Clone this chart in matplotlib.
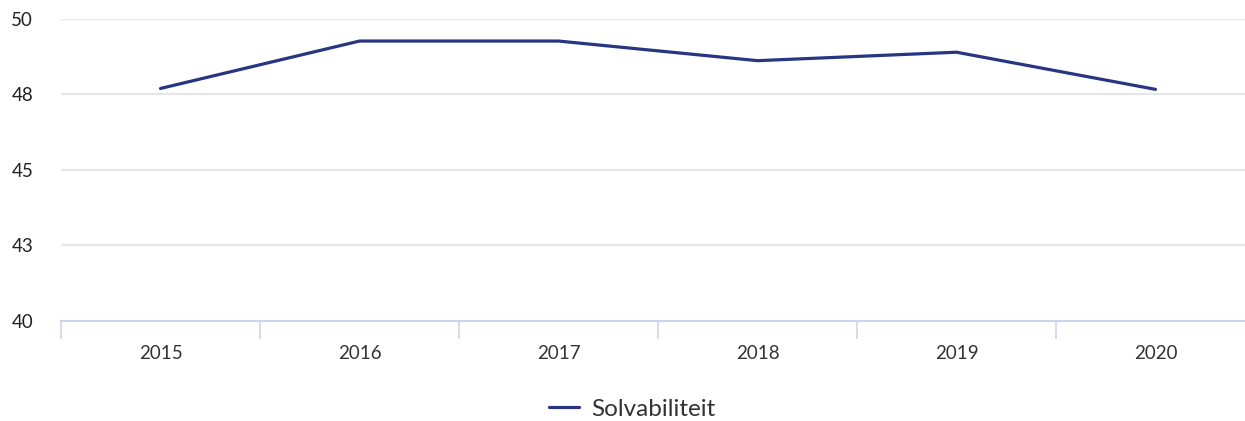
import matplotlib
matplotlib.use("Agg")
import matplotlib.pyplot as plt
import numpy as np

years = ["2015", "2016", "2017", "2018", "2019", "2020"]
solvabiliteit = [47.7, 49.27, 49.27, 48.62, 48.9, 47.67]
y_ticks = [40, 42.5, 45, 47.5, 50]
y_tick_labels = ["40", "43", "45", "48", "50"]
series_name = "Solvabiliteit"

plt.rcParams['font.family'] = ['Lato', 'DejaVu Sans']

W, H = 1245, 421
fig = plt.figure(figsize=(W / 100, H / 100), dpi=100)
left, right, top, bottom = 61, 1255, 19, 321
ax = fig.add_axes([left / W, (H - bottom) / H, (right - left) / W, (bottom - top) / H])
ax.set_clip_on(False)

x = np.arange(len(years))
ax.plot(x, solvabiliteit, color="#283583", lw=2.3, solid_capstyle="round",
        solid_joinstyle="miter", label=series_name, zorder=3)

ax.set_xlim(-0.5, len(years) - 0.5)
ax.set_ylim(40, 50)
ax.set_yticks(y_ticks)
ax.set_yticklabels(y_tick_labels)
ax.set_xticks(x)
ax.set_xticklabels(years)
ax.set_xticks(np.arange(-0.5, len(years) - 0.4, 1), minor=True)

for s in ["top", "right", "left"]:
    ax.spines[s].set_visible(False)
ax.spines["bottom"].set_color("#ccd6eb")
ax.spines["bottom"].set_linewidth(1.5)

ax.grid(axis="y", color="#e6e6e6", lw=1.5)
ax.set_axisbelow(True)

ax.tick_params(axis="y", length=0, pad=20, labelsize=13.5, labelcolor="#222222")
ax.tick_params(axis="x", which="major", length=0, pad=17, labelsize=13.5, labelcolor="#333333")
ax.tick_params(axis="x", which="minor", length=13, width=1.2, color="#ccd6eb", direction="out")

leg = fig.legend(loc="center", bbox_to_anchor=(632 / W, (H - 409) / H), frameon=False,
                 fontsize=17.5, handlelength=1.25, handletextpad=0.5, labelcolor="#333333",
                 borderpad=0.2)

fig.savefig("out.png", dpi=100)
